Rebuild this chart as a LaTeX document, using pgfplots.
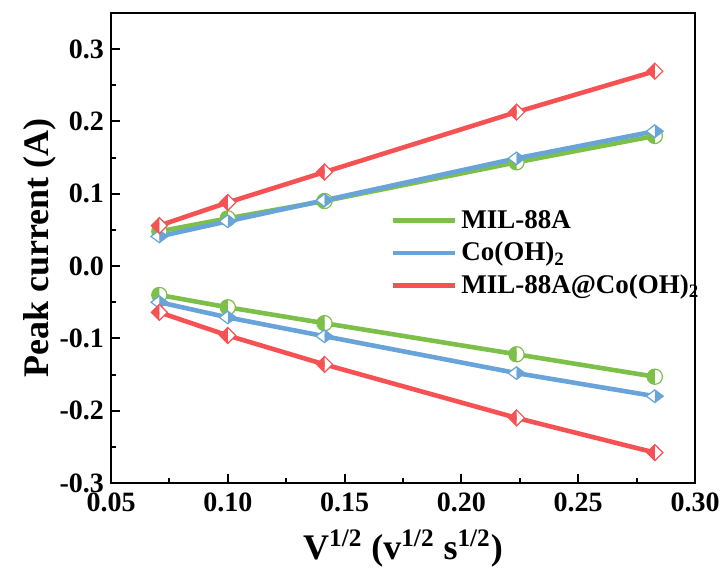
\documentclass[border=0pt]{standalone}
\usepackage{fontspec}
\setmainfont{Liberation Serif}
\usepackage{pgfplots}
\pgfplotsset{compat=1.18}
\usetikzlibrary{plotmarks}
\definecolor{cgreen}{RGB}{124,192,74}
\definecolor{cblue}{RGB}{104,164,218}
\definecolor{cred}{RGB}{246,82,84}
\begin{document}
\begin{tikzpicture}
\begin{axis}[
  name=ax,
  scale only axis, width=292pt, height=235pt,
  xmin=0.05, xmax=0.30, ymin=-0.3, ymax=0.35,
  xtick={0.05,0.10,0.15,0.20,0.25,0.30},
  ytick={-0.3,-0.2,-0.1,0,0.1,0.2,0.3},
  minor x tick num=1, minor y tick num=1,
  tick align=inside, xtick pos=left, ytick pos=left,
  major tick length=4.5pt, minor tick length=2.5pt,
  every tick/.style={black, line width=1pt},
  axis line style={line width=1pt},
  /pgf/number format/assume math mode=true,
  tick label style={font=\fontsize{14}{16}\selectfont\bfseries},
  x tick label style={yshift=-1.5pt, /pgf/number format/fixed, /pgf/number format/fixed zerofill, /pgf/number format/precision=2},
  y tick label style={/pgf/number format/fixed, /pgf/number format/fixed zerofill, /pgf/number format/precision=1},
  scaled ticks=false,
  xlabel={V\textsuperscript{1/2} (v\textsuperscript{1/2} s\textsuperscript{1/2})},
  ylabel={Peak current (A)},
  xlabel shift=2pt, ylabel shift=-5pt,
  label style={font=\fontsize{18}{20}\selectfont\bfseries},
  legend style={draw=none, fill=none, at={(0.478,0.59)}, anchor=north west,
    font=\fontsize{13.5}{15}\selectfont\bfseries, row sep=1.5pt, inner sep=0pt},
  legend cell align=left,
  legend image code/.code={\draw[#1, line width=2.4pt] (0pt,0pt) -- (31pt,0pt);},
]
% upper
\addplot[cgreen, line width=2.3pt, mark=halfcircle*, mark size=3.8pt,
  mark options={line width=0.6pt, fill=white, mark color=cgreen, rotate=-90}]
  coordinates {(0.0707,0.048) (0.1,0.066) (0.1414,0.090) (0.2236,0.1435) (0.2828,0.180)};
\addlegendentry{MIL-88A}
\addplot[cblue, line width=2.3pt, mark=halfdiamond*, mark size=4.2pt,
  mark options={line width=0.6pt, fill=white, mark color=cblue, rotate=-90}]
  coordinates {(0.0707,0.041) (0.1,0.062) (0.1414,0.091) (0.2236,0.149) (0.2828,0.1865)};
\addlegendentry{Co(OH)\textsubscript{2}}
\addplot[cred, line width=2.3pt, mark=halfsquare right*, mark size=4pt,
  mark options={line width=0.6pt, fill=white, mark color=cred}]
  coordinates {(0.0707,0.056) (0.1,0.088) (0.1414,0.130) (0.2236,0.213) (0.2828,0.2695)};
\addlegendentry{MIL-88A@Co(OH)\textsubscript{2}}
% lower
\addplot[cgreen, line width=2.3pt, mark=halfcircle*, mark size=3.8pt,
  mark options={line width=0.6pt, fill=white, mark color=cgreen, rotate=-90}, forget plot]
  coordinates {(0.0707,-0.040) (0.1,-0.057) (0.1414,-0.079) (0.2236,-0.122) (0.2828,-0.153)};
\addplot[cblue, line width=2.3pt, mark=halfdiamond*, mark size=4.2pt,
  mark options={line width=0.6pt, fill=white, mark color=cblue, rotate=-90}, forget plot]
  coordinates {(0.0707,-0.050) (0.1,-0.071) (0.1414,-0.097) (0.2236,-0.148) (0.2828,-0.180)};
\addplot[cred, line width=2.3pt, mark=halfsquare right*, mark size=4pt,
  mark options={line width=0.6pt, fill=white, mark color=cred}, forget plot]
  coordinates {(0.0707,-0.064) (0.1,-0.096) (0.1414,-0.136) (0.2236,-0.210) (0.2828,-0.258)};
\end{axis}
\pgfresetboundingbox
\path ([shift={(-55.5pt,-46.5pt)}]ax.south west) rectangle ([shift={(16pt,6.5pt)}]ax.north east);
\end{tikzpicture}
\end{document}
